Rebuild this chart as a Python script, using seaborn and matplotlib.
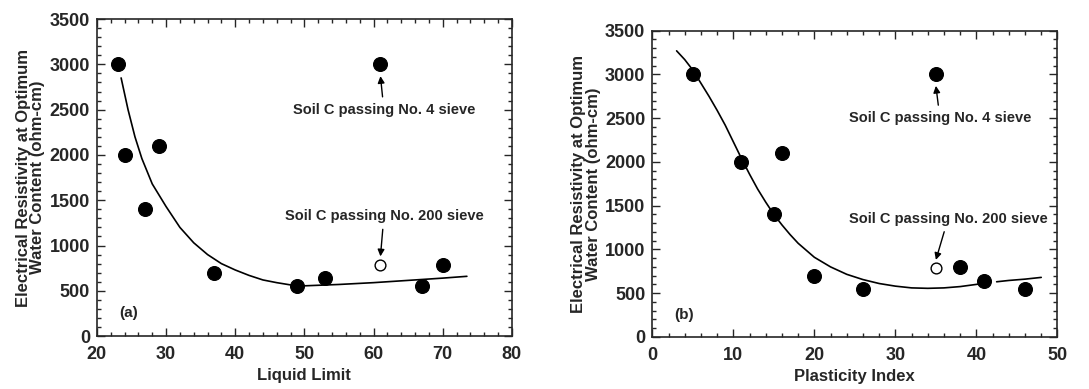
import matplotlib
matplotlib.use("Agg")
import matplotlib.pyplot as plt
import seaborn as sns
from matplotlib.ticker import MultipleLocator

# (a) liquid limit data (last filled point = Soil C passing No. 4 sieve)
ll = [23, 24, 27, 29, 37, 49, 53, 67, 70, 61]
ll_res = [3000, 2000, 1400, 2100, 700, 550, 640, 550, 790, 3000]
ll_open = [61]
ll_open_res = [790]
ll_fit1_x = [23.5, 24.5, 25.5, 26.5, 28, 30, 32, 34, 36, 38, 40, 42, 44, 46, 48]
ll_fit1_y = [2850, 2500, 2200, 1960, 1680, 1430, 1200, 1030, 900, 800, 730,
             670, 620, 590, 565]
ll_fit2_x = [50, 55, 60, 65, 70, 73.5]
ll_fit2_y = [555, 570, 590, 615, 640, 660]

# (b) plasticity index data
pi = [5, 11, 15, 16, 20, 26, 38, 41, 46, 35]
pi_res = [3000, 2000, 1400, 2100, 700, 550, 800, 640, 550, 3000]
pi_open = [35]
pi_open_res = [790]
pi_fit1_x = [3, 4, 5, 6, 7, 8, 9, 10, 11, 12, 13, 14, 15, 16, 17, 18, 20, 22,
             24, 26, 28, 30, 32, 34, 36, 38, 40, 41.5]
pi_fit1_y = [3270, 3170, 3050, 2900, 2750, 2590, 2420, 2230, 2040, 1860, 1690,
             1540, 1400, 1280, 1170, 1070, 910, 800, 715, 655, 610, 580, 560,
             555, 560, 575, 600, 620]
pi_fit2_x = [42.5, 44, 46, 48]
pi_fit2_y = [630, 645, 660, 680]

sns.set_style("ticks")
plt.rcParams["font.family"] = ["Liberation Sans", "DejaVu Sans"]

fig = plt.figure(figsize=(10.89, 3.89), dpi=100)
ax1 = fig.add_axes([0.089, 0.136, 0.381, 0.815])
ax2 = fig.add_axes([0.599, 0.134, 0.372, 0.787])

ylab = "Electrical Resistivity at Optimum\nWater Content (ohm-cm)"


def panel(ax, x, y, ox, oy, f1x, f1y, f2x, f2y, xlim, xlabel, tag, t4, t200):
    sns.lineplot(x=f1x, y=f1y, ax=ax, color="black", lw=1.2, sort=False)
    sns.lineplot(x=f2x, y=f2y, ax=ax, color="black", lw=1.2, sort=False)
    sns.scatterplot(x=x, y=y, ax=ax, color="black", s=100, edgecolor="black",
                    zorder=3)
    sns.scatterplot(x=ox, y=oy, ax=ax, color="white", s=60, edgecolor="black",
                    linewidth=1.0, zorder=3)
    ax.set_xlim(*xlim)
    ax.set_ylim(0, 3500)
    ax.xaxis.set_major_locator(MultipleLocator(10))
    ax.xaxis.set_minor_locator(MultipleLocator(2))
    ax.yaxis.set_major_locator(MultipleLocator(500))
    ax.yaxis.set_minor_locator(MultipleLocator(100))
    ax.tick_params(which="both", direction="in", top=True, right=True,
                   width=1.0, labelsize=13)
    ax.tick_params(which="major", length=6, pad=5)
    ax.tick_params(axis="x", which="major", pad=7)
    ax.tick_params(which="minor", length=3)
    for lab in ax.get_xticklabels() + ax.get_yticklabels():
        lab.set_fontweight("bold")
    for sp in ax.spines.values():
        sp.set_linewidth(1.2)
    ax.set_xlabel(xlabel, fontsize=12, fontweight="bold", labelpad=4)
    ax.set_ylabel(ylab, fontsize=12, fontweight="bold", linespacing=0.95,
                  labelpad=3)
    ax.text(0.055, 0.06, tag, transform=ax.transAxes, fontsize=11,
            fontweight="bold")
    tx, ty, px, py = t4
    ax.annotate("Soil C passing No. 4 sieve", xy=(px, py), xytext=(tx, ty),
                ha="center", va="bottom", fontsize=10.5, fontweight="bold",
                arrowprops=dict(arrowstyle="-|>", color="black", lw=1.0,
                                shrinkA=2, shrinkB=0, mutation_scale=10))
    tx, ty, px, py = t200
    ax.annotate("Soil C passing No. 200 sieve", xy=(px, py), xytext=(tx, ty),
                ha="center", va="top", fontsize=10.5, fontweight="bold",
                arrowprops=dict(arrowstyle="-|>", color="black", lw=1.0,
                                shrinkA=2, shrinkB=0, mutation_scale=10))


panel(ax1, ll, ll_res, ll_open, ll_open_res, ll_fit1_x, ll_fit1_y,
      ll_fit2_x, ll_fit2_y, (20, 80), "Liquid Limit", "(a)",
      (61.5, 2420, 61, 2870), (61.5, 1400, 61, 880))
panel(ax2, pi, pi_res, pi_open, pi_open_res, pi_fit1_x, pi_fit1_y,
      pi_fit2_x, pi_fit2_y, (0, 50), "Plasticity Index", "(b)",
      (35.5, 2420, 35, 2870), (36.5, 1430, 35, 880))

fig.savefig("out.png", dpi=100)
